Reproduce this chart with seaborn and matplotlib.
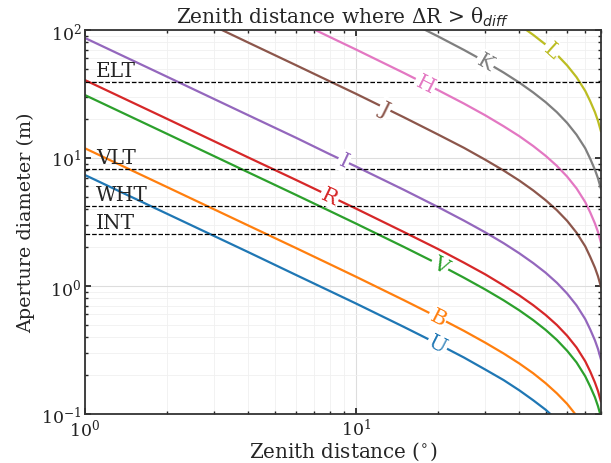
import numpy as np
import pandas as pd
import matplotlib
matplotlib.use("Agg")
import matplotlib.pyplot as plt
import seaborn as sns

# ---------------- data ----------------
bands = ["U", "B", "V", "R", "I", "J", "H", "K", "L"]

z_U = [1, 2, 4, 6, 8, 10, 15, 20, 25, 30, 35, 40, 45, 50, 55]
D_U = [7.36, 3.68, 1.84, 1.22, 0.913, 0.729, 0.479, 0.353, 0.276, 0.222, 0.184, 0.153, 0.128, 0.108, 0.090]

z_B = [1, 2, 4, 6, 8, 10, 15, 20, 25, 30, 35, 40, 45, 50, 55, 60, 65, 70]
D_B = [11.9, 5.95, 2.97, 1.98, 1.48, 1.18, 0.775, 0.571, 0.446, 0.360, 0.297, 0.248, 0.208, 0.174, 0.145, 0.120, 0.097, 0.076]

z_V = [1, 2, 4, 6, 8, 10, 15, 20, 25, 30, 35, 40, 45, 50, 55, 60, 65, 70, 73, 76, 78, 80]
D_V = [31, 15.5, 7.73, 5.15, 3.85, 3.07, 2.02, 1.49, 1.16, 0.937, 0.773, 0.645, 0.541, 0.454, 0.379, 0.312, 0.253, 0.197, 0.164, 0.135, 0.115, 0.095]

z_R = [1, 2, 4, 6, 8, 10, 15, 20, 25, 30, 35, 40, 45, 50, 55, 60, 65, 70, 73, 76, 78, 80]
D_R = [40.6, 20.3, 10.1, 6.74, 5.04, 4.02, 2.64, 1.95, 1.52, 1.23, 1.01, 0.844, 0.708, 0.594, 0.496, 0.409, 0.331, 0.258, 0.215, 0.176, 0.151, 0.125]

z_I = [1, 2, 4, 6, 8, 10, 15, 20, 25, 30, 35, 40, 45, 50, 55, 60, 65, 70, 73, 76, 78, 80]
D_I = [86.6, 43.3, 21.6, 14.4, 10.7, 8.57, 5.64, 4.15, 3.24, 2.62, 2.16, 1.80, 1.51, 1.27, 1.06, 0.873, 0.706, 0.551, 0.458, 0.376, 0.322, 0.266]

z_J = [3, 4, 6, 8, 10, 15, 20, 25, 30, 35, 40, 45, 50, 55, 60, 65, 70, 73, 76, 78, 80]
D_J = [106.7, 79.8, 53.1, 39.7, 31.7, 20.8, 15.3, 12.0, 9.67, 7.98, 6.66, 5.58, 4.68, 3.91, 3.23, 2.61, 2.04, 1.69, 1.39, 1.19, 0.984]

z_H = [7, 8, 10, 15, 20, 25, 30, 35, 40, 45, 50, 55, 60, 65, 70, 73, 76, 78, 80]
D_H = [101, 88.1, 70.3, 46.2, 34.0, 26.6, 21.5, 17.7, 14.8, 12.4, 10.4, 8.68, 7.16, 5.79, 4.52, 3.76, 3.08, 2.64, 2.18]

z_K = [17.5, 20, 25, 30, 35, 40, 45, 50, 55, 60, 65, 70, 73, 76, 78, 80]
D_K = [103, 89.4, 69.8, 56.4, 46.5, 38.8, 32.5, 27.3, 22.8, 18.8, 15.2, 11.9, 9.87, 8.09, 6.94, 5.73]

z_L = [41.5, 45, 50, 55, 60, 65, 70, 73, 76, 78, 80]
D_L = [103.5, 91.6, 76.9, 64.2, 52.9, 42.8, 33.4, 27.8, 22.8, 19.5, 16.1]

label_z = [20, 20, 20.4, 8, 9, 12.8, 18, 30, 52.7]

telescopes = ["ELT", "VLT", "WHT", "INT"]
tel_D = [39, 8.2, 4.2, 2.54]

series = {"U": (z_U, D_U), "B": (z_B, D_B), "V": (z_V, D_V), "R": (z_R, D_R),
          "I": (z_I, D_I), "J": (z_J, D_J), "H": (z_H, D_H), "K": (z_K, D_K),
          "L": (z_L, D_L)}

rows = []
for b in bands:
    zz, dd = series[b]
    for a, d in zip(zz, dd):
        rows.append({"band": b, "z": a, "D": d})
df = pd.DataFrame(rows)

# ---------------- style ----------------
sns.set_theme(style="ticks")
plt.rcParams.update({
    "font.family": ["DejaVu Serif"],
    "mathtext.fontset": "dejavusans",
    "xtick.direction": "in", "ytick.direction": "in",
    "xtick.top": True, "ytick.right": True,
    "xtick.major.size": 4.5, "ytick.major.size": 4.5,
    "xtick.minor.size": 2.3, "ytick.minor.size": 2.3,
    "xtick.minor.visible": True, "ytick.minor.visible": True,
    "xtick.major.pad": 2.5, "ytick.major.pad": 2.5,
    "axes.edgecolor": "#333333", "axes.linewidth": 1.3,
    "xtick.color": "#222222", "ytick.color": "#222222",
})

palette = dict(zip(bands, sns.color_palette("tab10", 9)))

fig = plt.figure(figsize=(6.11, 4.64), dpi=100)
ax = fig.add_axes([0.1391, 0.1056, 0.8445, 0.8276])

sns.lineplot(data=df, x="z", y="D", hue="band", hue_order=bands, palette=palette,
             sort=False, estimator=None, legend=False, lw=1.6, ax=ax)

ax.set_xscale("log")
ax.set_yscale("log")
ax.set_xlim(1, 80)
ax.set_ylim(0.1, 100)

ax.grid(True, which="major", color="#dddddd", lw=0.8)
ax.grid(True, which="minor", color="#f0f0f0", lw=0.6)
ax.set_axisbelow(True)

for name, d in zip(telescopes, tel_D):
    ax.axhline(d, color="black", ls="--", lw=0.9)
    ax.text(1.1, d * 1.04, name, ha="left", va="bottom", fontsize=14.5)

ax.set_title(r"Zenith distance where ΔR > θ$_{diff}$", fontsize=14.5, pad=5)
ax.set_xlabel(r"Zenith distance ($^{\circ}$)", fontsize=14.3, labelpad=0)
ax.set_ylabel("Aperture diameter (m)", fontsize=13.8, labelpad=4)
ax.tick_params(axis="both", which="major", labelsize=12.5)

# inline labels along lines
for b, lz in zip(bands, label_z):
    zz, dd = series[b]
    lzz = np.log10(zz)
    ldd = np.log10(dd)
    ly = 10 ** np.interp(np.log10(lz), lzz, ldd)
    z1, z2 = lz / 1.03, lz * 1.03
    y1 = 10 ** np.interp(np.log10(z1), lzz, ldd)
    y2 = 10 ** np.interp(np.log10(z2), lzz, ldd)
    p1 = ax.transData.transform((z1, y1))
    p2 = ax.transData.transform((z2, y2))
    ang = np.degrees(np.arctan2(p2[1] - p1[1], p2[0] - p1[0]))
    ax.text(lz, ly, b, color=palette[b], fontsize=15, ha="center", va="center",
            rotation=ang, rotation_mode="anchor",
            bbox=dict(facecolor="white", edgecolor="none", pad=1.2), zorder=5)

fig.savefig("out.png", dpi=100)
